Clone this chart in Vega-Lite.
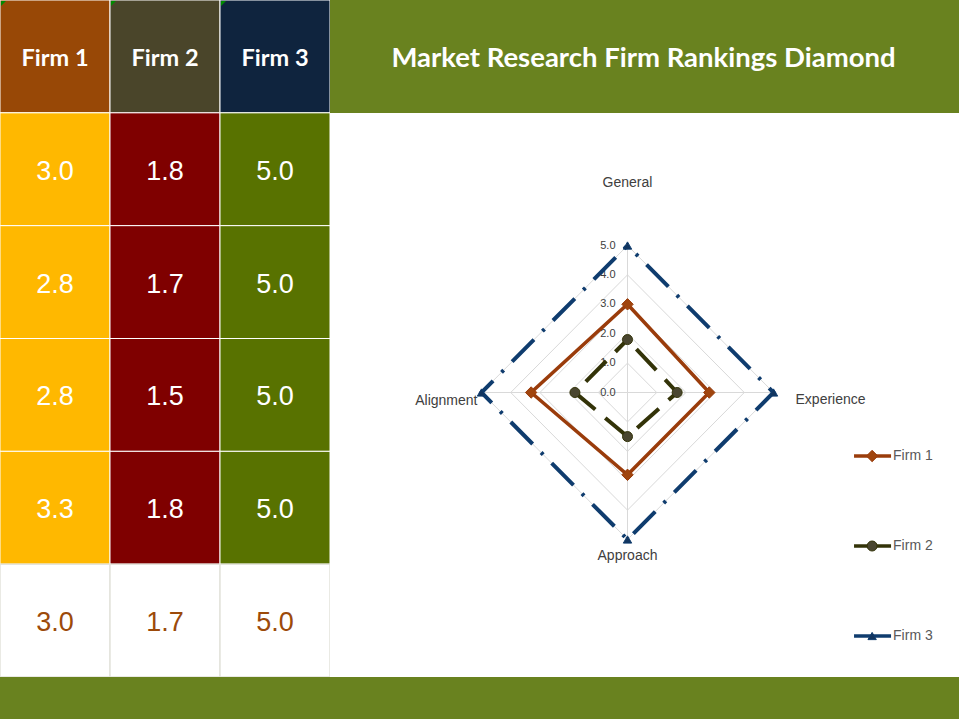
{
  "$schema": "https://vega.github.io/schema/vega-lite/v6.json",
  "padding": 0,
  "autosize": {"type": "pad"},
  "background": "white",
  "spacing": 0,
  "bounds": "full",
  "config": {"view": {"stroke": null}, "concat": {"spacing": 0}},
  "datasets": {
    "scores": [
      {"criterion": "General", "firm": "Firm 1", "score": 3.0},
      {"criterion": "General", "firm": "Firm 2", "score": 1.8},
      {"criterion": "General", "firm": "Firm 3", "score": 5.0},
      {"criterion": "Experience", "firm": "Firm 1", "score": 2.8},
      {"criterion": "Experience", "firm": "Firm 2", "score": 1.7},
      {"criterion": "Experience", "firm": "Firm 3", "score": 5.0},
      {"criterion": "Approach", "firm": "Firm 1", "score": 2.8},
      {"criterion": "Approach", "firm": "Firm 2", "score": 1.5},
      {"criterion": "Approach", "firm": "Firm 3", "score": 5.0},
      {"criterion": "Alignment", "firm": "Firm 1", "score": 3.3},
      {"criterion": "Alignment", "firm": "Firm 2", "score": 1.8},
      {"criterion": "Alignment", "firm": "Firm 3", "score": 5.0}
    ],
    "grid": [
      {"level": 0, "criterion": "General"}, {"level": 0, "criterion": "Experience"}, {"level": 0, "criterion": "Approach"}, {"level": 0, "criterion": "Alignment"},
      {"level": 1, "criterion": "General"}, {"level": 1, "criterion": "Experience"}, {"level": 1, "criterion": "Approach"}, {"level": 1, "criterion": "Alignment"},
      {"level": 2, "criterion": "General"}, {"level": 2, "criterion": "Experience"}, {"level": 2, "criterion": "Approach"}, {"level": 2, "criterion": "Alignment"},
      {"level": 3, "criterion": "General"}, {"level": 3, "criterion": "Experience"}, {"level": 3, "criterion": "Approach"}, {"level": 3, "criterion": "Alignment"},
      {"level": 4, "criterion": "General"}, {"level": 4, "criterion": "Experience"}, {"level": 4, "criterion": "Approach"}, {"level": 4, "criterion": "Alignment"},
      {"level": 5, "criterion": "General"}, {"level": 5, "criterion": "Experience"}, {"level": 5, "criterion": "Approach"}, {"level": 5, "criterion": "Alignment"}
    ]
  },
  "vconcat": [
    {
      "spacing": 0,
      "bounds": "flush",
      "hconcat": [
        {
          "width": 330,
          "height": 677,
          "data": {"name": "scores"},
          "resolve": {"scale": {"color": "independent"}},
          "layer": [
            {
              "transform": [{"aggregate": [{"op": "count", "as": "n"}], "groupby": ["firm"]}],
              "mark": {"type": "rect", "stroke": "white", "strokeWidth": 1, "clip": true},
              "encoding": {
                "x": {"field": "firm", "type": "nominal", "axis": null, "scale": {"domain": ["Firm 1", "Firm 2", "Firm 3"], "paddingInner": 0, "paddingOuter": 0}},
                "y": {"datum": "Header", "type": "nominal", "axis": null, "scale": {"domain": ["Header", "General", "Experience", "Approach", "Alignment", "Average"], "paddingInner": 0, "paddingOuter": 0}},
                "color": {"field": "firm", "type": "nominal", "legend": null, "scale": {"domain": ["Firm 1", "Firm 2", "Firm 3"], "range": ["#984806", "#4A452A", "#0F243E"]}}
              }
            },
            {
              "transform": [{"aggregate": [{"op": "count", "as": "n"}], "groupby": ["firm"]}],
              "mark": {"type": "point", "shape": "M0,0L1,0L0,1Z", "filled": true, "size": 100, "color": "#008A00", "opacity": 1, "xOffset": 1, "yOffset": 1, "clip": true},
              "encoding": {
                "x": {"field": "firm", "type": "nominal", "bandPosition": 0, "axis": null},
                "y": {"datum": "Header", "type": "nominal", "bandPosition": 0, "axis": null}
              }
            },
            {
              "transform": [{"aggregate": [{"op": "count", "as": "n"}], "groupby": ["firm"]}],
              "mark": {"type": "text", "font": "Lato", "fontWeight": "bold", "fontSize": 23.5, "color": "white", "baseline": "middle", "dy": 3},
              "encoding": {
                "x": {"field": "firm", "type": "nominal", "axis": null},
                "y": {"datum": "Header", "type": "nominal", "axis": null},
                "text": {"field": "firm"}
              }
            },
            {
              "mark": {"type": "rect", "stroke": "white", "strokeWidth": 1, "clip": true},
              "encoding": {
                "x": {"field": "firm", "type": "nominal", "axis": null},
                "y": {"field": "criterion", "type": "nominal", "axis": null},
                "color": {"field": "firm", "type": "nominal", "legend": null, "scale": {"domain": ["Firm 1", "Firm 2", "Firm 3"], "range": ["#FFB800", "#7F0000", "#587200"]}}
              }
            },
            {
              "mark": {"type": "text", "font": "Liberation Sans", "fontSize": 27, "color": "white", "baseline": "middle", "dy": 2.5},
              "encoding": {
                "x": {"field": "firm", "type": "nominal", "axis": null},
                "y": {"field": "criterion", "type": "nominal", "axis": null},
                "text": {"field": "score", "type": "quantitative", "format": ".1f"}
              }
            },
            {
              "transform": [{"aggregate": [{"op": "mean", "field": "score", "as": "avg"}], "groupby": ["firm"]}],
              "mark": {"type": "rect", "fill": "white", "stroke": "#E4E4DC", "strokeWidth": 1.5, "clip": true},
              "encoding": {
                "x": {"field": "firm", "type": "nominal", "axis": null},
                "y": {"datum": "Average", "type": "nominal", "axis": null}
              }
            },
            {
              "transform": [{"aggregate": [{"op": "mean", "field": "score", "as": "avg"}], "groupby": ["firm"]}],
              "mark": {"type": "text", "font": "Liberation Sans", "fontSize": 27, "color": "#9C4A0A", "baseline": "middle", "dy": 2.5},
              "encoding": {
                "x": {"field": "firm", "type": "nominal", "axis": null},
                "y": {"datum": "Average", "type": "nominal", "axis": null},
                "text": {"field": "avg", "type": "quantitative", "format": ".1f"}
              }
            }
          ]
        },
        {
          "spacing": 0,
          "bounds": "flush",
          "vconcat": [
            {
              "width": 629,
              "height": 113,
              "data": {"values": [{"title": "Market Research Firm Rankings Diamond"}]},
              "layer": [
                {"mark": {"type": "rect", "color": "#69821F"}, "encoding": {}},
                {
                  "mark": {"type": "text", "font": "Lato", "fontWeight": "bold", "fontSize": 27.5, "color": "white", "baseline": "middle", "dx": -1, "dy": 2},
                  "encoding": {"text": {"field": "title"}}
                }
              ]
            },
            {
              "spacing": 0,
              "bounds": "flush",
              "hconcat": [
                {
                  "width": 510,
                  "height": 564,
                  "layer": [
                    {
                      "data": {"name": "grid"},
                      "transform": [
                        {"filter": "datum.level > 0"},
                        {"calculate": "indexof(['General','Experience','Approach','Alignment'], datum.criterion)", "as": "idx"},
                        {"calculate": "datum.level * sin(datum.idx * PI / 2)", "as": "px"},
                        {"calculate": "datum.level * cos(datum.idx * PI / 2)", "as": "py"}
                      ],
                      "mark": {"type": "line", "interpolate": "linear-closed", "stroke": "#D9D9D9", "strokeWidth": 1},
                      "encoding": {
                        "x": {"field": "px", "type": "quantitative", "axis": null, "scale": {"domain": [-10.188, 7.277], "nice": false, "zero": false}},
                        "y": {"field": "py", "type": "quantitative", "axis": null, "scale": {"domain": [-9.677, 9.507], "nice": false, "zero": false}},
                        "detail": {"field": "level"},
                        "order": {"field": "idx"}
                      }
                    },
                    {
                      "data": {"name": "grid"},
                      "transform": [
                        {"filter": "datum.level == 0 || datum.level == 5"},
                        {"calculate": "indexof(['General','Experience','Approach','Alignment'], datum.criterion)", "as": "idx"},
                        {"calculate": "datum.level * sin(datum.idx * PI / 2)", "as": "px"},
                        {"calculate": "datum.level * cos(datum.idx * PI / 2)", "as": "py"}
                      ],
                      "mark": {"type": "line", "stroke": "#D9D9D9", "strokeWidth": 1},
                      "encoding": {
                        "x": {"field": "px", "type": "quantitative", "axis": null},
                        "y": {"field": "py", "type": "quantitative", "axis": null},
                        "detail": {"field": "criterion"},
                        "order": {"field": "level"}
                      }
                    },
                    {
                      "data": {"name": "grid"},
                      "transform": [
                        {"filter": "datum.criterion == 'General'"},
                        {"calculate": "0", "as": "px"},
                        {"calculate": "datum.level", "as": "py"}
                      ],
                      "mark": {"type": "text", "align": "right", "baseline": "middle", "dx": -12, "font": "Liberation Sans", "fontSize": 11, "color": "#404040"},
                      "encoding": {
                        "x": {"field": "px", "type": "quantitative", "axis": null},
                        "y": {"field": "py", "type": "quantitative", "axis": null},
                        "text": {"field": "level", "type": "quantitative", "format": ".1f"}
                      }
                    },
                    {
                      "data": {"name": "grid"},
                      "transform": [
                        {"filter": "datum.level == 5 && datum.criterion == 'General'"},
                        {"calculate": "0", "as": "px"},
                        {"calculate": "datum.level", "as": "py"}
                      ],
                      "mark": {"type": "text", "align": "center", "baseline": "middle", "dy": -63, "font": "Liberation Sans", "fontSize": 14, "color": "#404040"},
                      "encoding": {
                        "x": {"field": "px", "type": "quantitative", "axis": null},
                        "y": {"field": "py", "type": "quantitative", "axis": null},
                        "text": {"field": "criterion"}
                      }
                    },
                    {
                      "data": {"name": "grid"},
                      "transform": [
                        {"filter": "datum.level == 5 && datum.criterion == 'Experience'"},
                        {"calculate": "datum.level", "as": "px"},
                        {"calculate": "0", "as": "py"}
                      ],
                      "mark": {"type": "text", "align": "left", "baseline": "middle", "dx": 22, "dy": 7, "font": "Liberation Sans", "fontSize": 14, "color": "#404040"},
                      "encoding": {
                        "x": {"field": "px", "type": "quantitative", "axis": null},
                        "y": {"field": "py", "type": "quantitative", "axis": null},
                        "text": {"field": "criterion"}
                      }
                    },
                    {
                      "data": {"name": "grid"},
                      "transform": [
                        {"filter": "datum.level == 5 && datum.criterion == 'Approach'"},
                        {"calculate": "0", "as": "px"},
                        {"calculate": "-datum.level", "as": "py"}
                      ],
                      "mark": {"type": "text", "align": "center", "baseline": "middle", "dy": 17, "font": "Liberation Sans", "fontSize": 14, "color": "#404040"},
                      "encoding": {
                        "x": {"field": "px", "type": "quantitative", "axis": null},
                        "y": {"field": "py", "type": "quantitative", "axis": null},
                        "text": {"field": "criterion"}
                      }
                    },
                    {
                      "data": {"name": "grid"},
                      "transform": [
                        {"filter": "datum.level == 5 && datum.criterion == 'Alignment'"},
                        {"calculate": "-datum.level", "as": "px"},
                        {"calculate": "0", "as": "py"}
                      ],
                      "mark": {"type": "text", "align": "right", "baseline": "middle", "dx": -4, "dy": 8, "font": "Liberation Sans", "fontSize": 14, "color": "#404040"},
                      "encoding": {
                        "x": {"field": "px", "type": "quantitative", "axis": null},
                        "y": {"field": "py", "type": "quantitative", "axis": null},
                        "text": {"field": "criterion"}
                      }
                    },
                    {
                      "data": {"name": "scores"},
                      "transform": [
                        {"filter": "datum.firm == 'Firm 1'"},
                        {"calculate": "indexof(['General','Experience','Approach','Alignment'], datum.criterion)", "as": "idx"},
                        {"calculate": "datum.score * sin(datum.idx * PI / 2)", "as": "px"},
                        {"calculate": "datum.score * cos(datum.idx * PI / 2)", "as": "py"}
                      ],
                      "mark": {"type": "line", "interpolate": "linear-closed", "strokeWidth": 3.5},
                      "encoding": {
                        "x": {"field": "px", "type": "quantitative", "axis": null},
                        "y": {"field": "py", "type": "quantitative", "axis": null},
                        "stroke": {"field": "firm", "type": "nominal", "legend": null, "scale": {"domain": ["Firm 1", "Firm 2", "Firm 3"], "range": ["#9A3C0B", "#333308", "#0F3C6E"]}},
                        "order": {"field": "idx"}
                      }
                    },
                    {
                      "data": {"name": "scores"},
                      "transform": [
                        {"filter": "datum.firm == 'Firm 2'"},
                        {"calculate": "indexof(['General','Experience','Approach','Alignment'], datum.criterion)", "as": "idx"},
                        {"calculate": "datum.score * sin(datum.idx * PI / 2)", "as": "px"},
                        {"calculate": "datum.score * cos(datum.idx * PI / 2)", "as": "py"}
                      ],
                      "mark": {"type": "line", "interpolate": "linear-closed", "strokeWidth": 4, "strokeDash": [29, 13], "strokeDashOffset": 29},
                      "encoding": {
                        "x": {"field": "px", "type": "quantitative", "axis": null},
                        "y": {"field": "py", "type": "quantitative", "axis": null},
                        "stroke": {"field": "firm", "type": "nominal", "legend": null},
                        "order": {"field": "idx"}
                      }
                    },
                    {
                      "data": {"name": "scores"},
                      "transform": [
                        {"filter": "datum.firm == 'Firm 3'"},
                        {"calculate": "indexof(['General','Experience','Approach','Alignment'], datum.criterion)", "as": "idx"},
                        {"calculate": "datum.score * sin(datum.idx * PI / 2)", "as": "px"},
                        {"calculate": "datum.score * cos(datum.idx * PI / 2)", "as": "py"}
                      ],
                      "mark": {"type": "line", "interpolate": "linear-closed", "strokeWidth": 4, "strokeDash": [31, 12, 3, 12], "strokeDashOffset": 31},
                      "encoding": {
                        "x": {"field": "px", "type": "quantitative", "axis": null},
                        "y": {"field": "py", "type": "quantitative", "axis": null},
                        "stroke": {"field": "firm", "type": "nominal", "legend": null},
                        "order": {"field": "idx"}
                      }
                    },
                    {
                      "data": {"name": "scores"},
                      "transform": [
                        {"calculate": "indexof(['General','Experience','Approach','Alignment'], datum.criterion)", "as": "idx"},
                        {"calculate": "datum.score * sin(datum.idx * PI / 2)", "as": "px"},
                        {"calculate": "datum.score * cos(datum.idx * PI / 2)", "as": "py"}
                      ],
                      "mark": {"type": "point", "filled": true, "opacity": 1, "strokeWidth": 1},
                      "encoding": {
                        "x": {"field": "px", "type": "quantitative", "axis": null},
                        "y": {"field": "py", "type": "quantitative", "axis": null},
                        "stroke": {"field": "firm", "type": "nominal", "legend": null},
                        "fill": {"field": "firm", "type": "nominal", "legend": null, "scale": {"domain": ["Firm 1", "Firm 2", "Firm 3"], "range": ["#A0450E", "#4A4630", "#12355F"]}},
                        "shape": {"field": "firm", "type": "nominal", "legend": null, "scale": {"domain": ["Firm 1", "Firm 2", "Firm 3"], "range": ["diamond", "circle", "triangle-up"]}},
                        "size": {"field": "firm", "type": "ordinal", "legend": null, "scale": {"domain": ["Firm 1", "Firm 2", "Firm 3"], "range": [130, 70, 90]}}
                      }
                    }
                  ]
                },
                {
                  "width": 119,
                  "height": 564,
                  "data": {"name": "scores"},
                  "transform": [{"aggregate": [{"op": "count", "as": "n"}], "groupby": ["firm"]}],
                  "layer": [
                    {
                      "mark": {"type": "rule", "strokeWidth": 3.5},
                      "encoding": {
                        "x": {"datum": 0.118, "type": "quantitative", "axis": null, "scale": {"domain": [0, 1], "nice": false, "zero": false}},
                        "x2": {"datum": 0.429},
                        "y": {"field": "firm", "type": "nominal", "axis": null, "scale": {"type": "point", "domain": ["Firm 1", "Firm 2", "Firm 3"], "range": [343, 523], "padding": 0}},
                        "stroke": {"field": "firm", "type": "nominal", "legend": null, "scale": {"domain": ["Firm 1", "Firm 2", "Firm 3"], "range": ["#9A3C0B", "#333308", "#0F3C6E"]}}
                      }
                    },
                    {
                      "mark": {"type": "point", "filled": true, "opacity": 1, "strokeWidth": 1},
                      "encoding": {
                        "x": {"datum": 0.27, "type": "quantitative", "axis": null},
                        "y": {"field": "firm", "type": "nominal", "axis": null},
                        "stroke": {"field": "firm", "type": "nominal", "legend": null},
                        "fill": {"field": "firm", "type": "nominal", "legend": null, "scale": {"domain": ["Firm 1", "Firm 2", "Firm 3"], "range": ["#A0450E", "#4A4630", "#12355F"]}},
                        "shape": {"field": "firm", "type": "nominal", "legend": null, "scale": {"domain": ["Firm 1", "Firm 2", "Firm 3"], "range": ["diamond", "circle", "triangle-up"]}},
                        "size": {"field": "firm", "type": "ordinal", "legend": null, "scale": {"domain": ["Firm 1", "Firm 2", "Firm 3"], "range": [40, 40, 45]}}
                      }
                    },
                    {
                      "mark": {"type": "text", "align": "left", "baseline": "middle", "dx": 2, "font": "Liberation Sans", "fontSize": 14, "color": "#595959"},
                      "encoding": {
                        "x": {"datum": 0.429, "type": "quantitative", "axis": null},
                        "y": {"field": "firm", "type": "nominal", "axis": null},
                        "text": {"field": "firm"}
                      }
                    }
                  ]
                }
              ]
            }
          ]
        }
      ]
    },
    {
      "width": 959,
      "height": 42,
      "data": {"values": [{"band": "footer"}]},
      "mark": {"type": "rect", "color": "#69821F"},
      "encoding": {}
    }
  ]
}
